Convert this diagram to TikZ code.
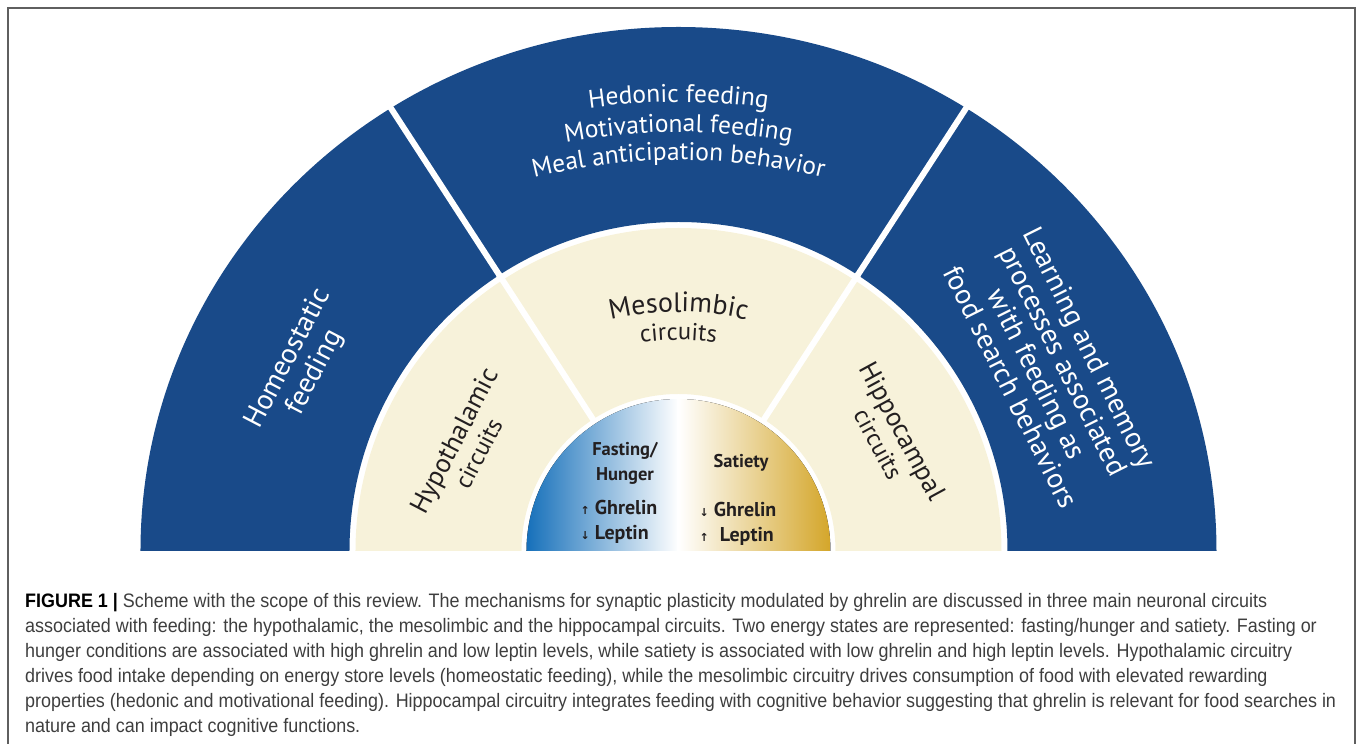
\documentclass[tikz,border=0pt]{standalone}
\usepackage{fontspec}
\setmainfont{PT Sans}
\newfontfamily\capfont[FakeStretch=0.92]{Liberation Sans}
\newfontfamily\arrowfont{DejaVu Sans}
\usetikzlibrary{decorations.text}

\definecolor{ringblue}{RGB}{25,74,137}
\definecolor{cream}{RGB}{247,242,218}
\definecolor{fastblue}{RGB}{22,112,186}
\definecolor{satgold}{RGB}{212,166,42}
\definecolor{darktext}{RGB}{35,31,32}
\definecolor{capgray}{RGB}{62,62,62}
\definecolor{framegray}{RGB}{95,95,95}

\newcommand{\uparr}{{\arrowfont\fontsize{11}{11}\selectfont ↑}}
\newcommand{\downarr}{{\arrowfont\fontsize{11}{11}\selectfont ↓}}
\newcommand{\hedfont}{\fontsize{25.5}{29}\selectfont}
\newcommand{\circfont}{\fontsize{27}{27}\selectfont}
\newcommand{\smallcirc}{\fontsize{24.5}{27}\selectfont}

\begin{document}
\begin{tikzpicture}[x=1pt,y=1pt,
  bandtext/.style={text=white, font=\fontsize{28.5}{30}\selectfont, align=center},
  circtext/.style={text=darktext, font=\circfont, align=center},
  statetext/.style={text=darktext, font=\bfseries\fontsize{18.5}{25}\selectfont, align=left, inner sep=0pt},
  spoke/.style={white, line width=6pt}]
\useasboundingbox (-678.5,-193) rectangle (679.5,551);

% frame
\draw[framegray, line width=1.5pt] (-670.5,-193) -- (-670.5,543) -- (676.5,543) -- (676.5,-193);

% outer band
\fill[ringblue] (538,0) arc[start angle=0, end angle=180, x radius=538, y radius=524]
  -- (-329,0) arc[start angle=180, end angle=0, radius=329] -- cycle;
\draw[spoke] (57:318) -- (57:560);
\draw[spoke] (123:318) -- (123:560);

% circuits band
\fill[cream] (323,0) arc[start angle=0, end angle=180, radius=323]
  -- (-157,0) arc[start angle=180, end angle=0, radius=157] -- cycle;
\draw[spoke] (57:150) -- (57:330);
\draw[spoke] (123:150) -- (123:330);

% energy states
\fill[left color=fastblue, right color=white] (-152,0) arc[start angle=180, end angle=90, radius=152] -- (0,0) -- cycle;
\fill[left color=white, right color=satgold] (0,0) -- (0,152) arc[start angle=90, end angle=0, radius=152] -- cycle;
\draw[white, line width=2pt] (0,0) -- (0,153);

% curved labels
\path[decorate, decoration={text along path, text align=center, text color=white,
  text={|\hedfont|Hedonic feeding}}]
  ([shift={(0,-202)}]110:651) arc[start angle=110, end angle=70, radius=651];
\path[decorate, decoration={text along path, text align=center, text color=white,
  text={|\hedfont|Motivational feeding}}]
  ([shift={(0,-202)}]110:621) arc[start angle=110, end angle=70, radius=621];
\path[decorate, decoration={text along path, text align=center, text color=white,
  text={|\hedfont|Meal anticipation behavior}}]
  ([shift={(0,-202)}]110:593) arc[start angle=110, end angle=70, radius=593];
\path[decorate, decoration={text along path, text align=center, text color=darktext,
  text={|\fontsize{28}{28}\selectfont|Mesolimbic}}]
  ([shift={(0,-60)}]130:299) arc[start angle=130, end angle=50, radius=299];
\path[decorate, decoration={text along path, text align=center, text color=darktext,
  text={|\smallcirc|circuits}}]
  ([shift={(0,-60)}]130:271) arc[start angle=130, end angle=50, radius=271];

% rotated labels
\node[bandtext, rotate=62.5] (homeo) at (153.8:420) {Homeostatic\\feeding};
\node[bandtext, rotate=-63.5, font=\fontsize{28.5}{29.5}\selectfont] (learn) at (26.3:415) {Learning and memory\\processes associated\\with feeding as\\food search behaviors};
\node[circtext, rotate=62.5] (hypo) at (153.9:237) {Hypothalamic\\{\smallcirc circuits}};
\node[circtext, rotate=-61.5] (hippo) at (28.2:241) {Hippocampal\\{\smallcirc circuits}};

% states
\node[statetext, align=center] (fasting) at (-53.5,88) {Fasting/\\Hunger};
\node[statetext] (satiety) at (62.5,88) {Satiety};
\node[statetext, anchor=west, font=\bfseries\fontsize{20}{25}\selectfont] (fastlevels) at (-98,29.5) {\uparr\ Ghrelin\\\downarr\ Leptin};
\node[statetext, anchor=west, font=\bfseries\fontsize{20}{25}\selectfont] (satlevels) at (21,27) {\downarr\ Ghrelin\\\uparr\hspace{6pt} Leptin};

% caption
\node[anchor=north west, align=left, inner sep=0pt, text=capgray,
  font=\capfont\fontsize{19.5}{25}\selectfont] (caption) at (-653.5,-42) {%
{\bfseries\color{black}FIGURE 1 |} Scheme with the scope of this review. The mechanisms for synaptic plasticity modulated by ghrelin are discussed in three main neuronal circuits\\
associated with feeding: the hypothalamic, the mesolimbic and the hippocampal circuits. Two energy states are represented: fasting/hunger and satiety. Fasting or\\
hunger conditions are associated with high ghrelin and low leptin levels, while satiety is associated with low ghrelin and high leptin levels. Hypothalamic circuitry\\
drives food intake depending on energy store levels (homeostatic feeding), while the mesolimbic circuitry drives consumption of food with elevated rewarding\\
properties (hedonic and motivational feeding). Hippocampal circuitry integrates feeding with cognitive behavior suggesting that ghrelin is relevant for food searches in\\
nature and can impact cognitive functions.};
\end{tikzpicture}
\end{document}
